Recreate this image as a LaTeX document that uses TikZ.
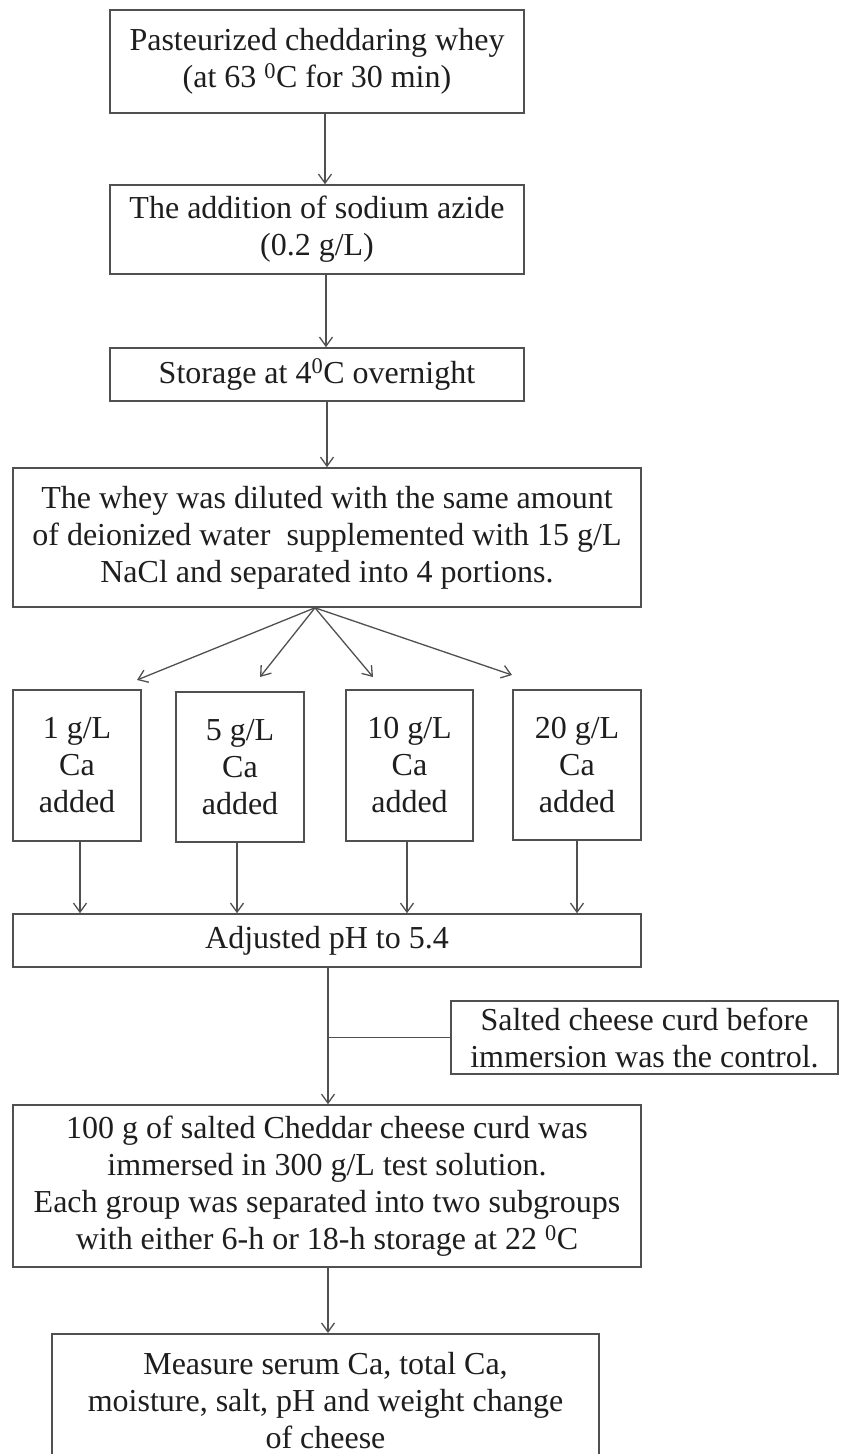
\documentclass[tikz,border=0pt]{standalone}
\usepackage{fontspec}
\setmainfont{Liberation Serif}
\usetikzlibrary{arrows.meta}
\definecolor{edgegray}{RGB}{80,80,80}
\definecolor{inkgray}{RGB}{30,30,30}
\begin{document}
\begin{tikzpicture}[x=1pt,y=-1pt,
  box/.style={draw=edgegray, line width=1.6pt, fill=white, inner sep=0pt, align=center, text=inkgray, font=\fontsize{32}{37}\selectfont},
  arr/.style={draw=edgegray, line width=1.3pt, -{Straight Barb[length=9pt,width=13pt,line width=1.3pt]}},
  ln/.style={draw=edgegray, line width=1.3pt}]
\useasboundingbox (0,0) rectangle (841,1454);
\fill[white] (0,0) rectangle (841,1454);

\node[box, minimum width=414pt, minimum height=103pt] (b1) at (317,61.5) {Pasteurized cheddaring whey\\(at 63 \textsuperscript{0}C for 30 min)};
\node[box, minimum width=414pt, minimum height=89pt] (b2) at (317,229.5) {The addition of sodium azide\\(0.2 g/L)};
\node[box, minimum width=414pt, minimum height=53pt] (b3) at (317,374.5) {Storage at 4\textsuperscript{0}C overnight};
\node[box, minimum width=628pt, minimum height=139pt] (b4) at (327,537.5) {The whey was diluted with the same amount\\of deionized water\ \ supplemented with 15 g/L\\NaCl and separated into 4 portions.};

\node[box, minimum width=128pt, minimum height=151pt] (ca1) at (77,765.5) {1 g/L\\Ca\\added};
\node[box, minimum width=128pt, minimum height=150pt] (ca2) at (240,767) {5 g/L\\Ca\\added};
\node[box, minimum width=127pt, minimum height=151pt] (ca3) at (409.5,765.5) {10 g/L\\Ca\\added};
\node[box, minimum width=128pt, minimum height=150pt] (ca4) at (577,765) {20 g/L\\Ca\\added};

\node[box, minimum width=628pt, minimum height=53pt] (adj) at (327,940.5) {Adjusted pH to 5.4};
\node[box, minimum width=387pt, minimum height=73pt] (sal) at (644.5,1037.5) {Salted cheese curd before\\immersion was the control.};
\node[box, minimum width=628pt, minimum height=162pt] (b5) at (327,1186) {100 g of salted Cheddar cheese curd was\\immersed in 300 g/L test solution.\\Each group was separated into two subgroups\\with either 6-h or 18-h storage at 22 \textsuperscript{0}C};
\node[box, minimum width=547pt, minimum height=134pt, anchor=north] (b6) at (325.5,1333) {Measure serum Ca, total Ca,\\moisture, salt, pH and weight change\\of cheese};

\draw[arr] ([xshift=8pt]b1.south) -- ([xshift=8pt]b2.north);
\draw[arr] ([xshift=9pt]b2.south) -- ([xshift=9pt]b3.north);
\draw[arr] ([xshift=10pt]b3.south) -- ([xshift=10pt]b3.south |- b4.north);

\coordinate (t1) at (137,680);
\coordinate (t2) at (260,677);
\coordinate (t3) at (373,677);
\coordinate (t4) at (512,675);
\coordinate (fan) at ([xshift=-12pt]b4.south);
\draw[arr] (fan) -- (t1);
\draw[arr] (fan) -- (t2);
\draw[arr] (fan) -- (t3);
\draw[arr] (fan) -- (t4);

\draw[arr] ([xshift=3pt]ca1.south) -- ([xshift=3pt]ca1.south |- adj.north);
\draw[arr] ([xshift=-3pt]ca2.south) -- ([xshift=-3pt]ca2.south |- adj.north);
\draw[arr] ([xshift=-2.5pt]ca3.south) -- ([xshift=-2.5pt]ca3.south |- adj.north);
\draw[arr] (ca4.south) -- (ca4.south |- adj.north);

\coordinate (vx) at ([xshift=1pt]adj.south);
\draw[arr] (vx) -- (vx |- b5.north);
\draw[ln] (sal.west) -- (sal.west -| vx);
\draw[arr] ([xshift=1pt]b5.south) -- ([xshift=1pt]b5.south |- b6.north);
\end{tikzpicture}
\end{document}
